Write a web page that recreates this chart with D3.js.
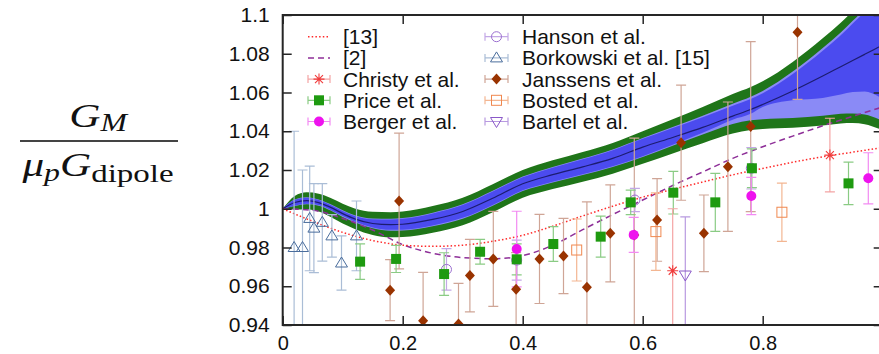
<!DOCTYPE html>
<html><head><meta charset="utf-8">
<script src="https://cdn.jsdelivr.net/npm/d3@7"></script>
<style>body{margin:0;background:#fff}svg{display:block}</style>
</head><body>
<svg id="c" width="879" height="354"></svg>
<script>
// ---- data ----
const xTicks = [0, 0.2, 0.4, 0.6, 0.8];
const xTickLabels = ["0", "0.2", "0.4", "0.6", "0.8"];
const yTicks = [0.94, 0.96, 0.98, 1.0, 1.02, 1.04, 1.06, 1.08, 1.1];
const yTickLabels = ["0.94", "0.96", "0.98", "1", "1.02", "1.04", "1.06", "1.08", "1.1"];

const bandQ   = [0,0.02,0.04,0.06,0.08,0.10,0.12,0.15,0.18,0.20,0.25,0.30,0.35,0.40,0.45,0.50,0.55,0.60,0.65,0.70,0.75,0.78,0.80,0.85,0.90,0.93,0.95,0.97,1.00,1.02];
const center  = [1.0000,1.0032,1.0042,1.0032,1.0007,0.9975,0.9948,0.9924,0.9918,0.9920,0.9945,0.9986,1.0054,1.0129,1.0176,1.0216,1.0260,1.0318,1.0368,1.0420,1.0478,1.0512,1.0538,1.0608,1.0685,1.0733,1.0765,1.0797,1.0845,1.0877];
const greenLo = [1.0000,0.9996,0.9998,0.9986,0.9958,0.9924,0.9896,0.9865,0.9853,0.9854,0.9876,0.9915,0.9982,1.0057,1.0102,1.0140,1.0181,1.0232,1.0285,1.0338,1.0388,1.0407,1.0412,1.0418,1.0430,1.0440,1.0442,1.0436,1.0405,1.0380];
const greenHi = [1.0000,1.0066,1.0085,1.0078,1.0056,1.0026,1.0001,0.9984,0.9982,0.9986,1.0014,1.0057,1.0127,1.0200,1.0250,1.0293,1.0340,1.0400,1.0462,1.0525,1.0592,1.0628,1.0658,1.0758,1.0880,1.0960,1.1020,1.1080,1.1170,1.1230];
const lightLo = [1.0000,1.0014,1.0023,1.0016,0.9991,0.9958,0.9930,0.9899,0.9887,0.9888,0.9910,0.9949,1.0016,1.0091,1.0136,1.0174,1.0215,1.0267,1.0325,1.0383,1.0438,1.0457,1.0462,1.0468,1.0480,1.0490,1.0492,1.0486,1.0455,1.0430];
const lightHi = [1.0000,1.0048,1.0060,1.0048,1.0023,0.9992,0.9967,0.9950,0.9948,0.9952,0.9980,1.0023,1.0093,1.0166,1.0216,1.0259,1.0306,1.0365,1.0422,1.0480,1.0542,1.0578,1.0608,1.0708,1.0830,1.0910,1.0970,1.1030,1.1120,1.1180];
const blueLo  = [1.0000,1.0016,1.0026,1.0019,0.9994,0.9962,0.9934,0.9903,0.9891,0.9892,0.9914,0.9953,1.0020,1.0095,1.0140,1.0178,1.0219,1.0271,1.0330,1.0392,1.0460,1.0490,1.0525,1.0560,1.0572,1.0590,1.0602,1.0605,1.0570,1.0545];
const blueHi  = [1.0000,1.0046,1.0057,1.0045,1.0020,0.9988,0.9963,0.9946,0.9944,0.9948,0.9976,1.0019,1.0089,1.0162,1.0212,1.0255,1.0302,1.0361,1.0417,1.0472,1.0532,1.0566,1.0596,1.0696,1.0816,1.0896,1.0956,1.1016,1.1106,1.1166];

const thQ   = [0,0.05,0.1,0.15,0.2,0.25,0.3,0.35,0.4,0.45,0.5,0.55,0.6,0.65,0.7,0.75,0.8,0.85,0.9,0.95,1.0,1.02];
const ref13 = [1.000,0.9935,0.9878,0.9836,0.9812,0.9806,0.9812,0.9832,0.9863,0.9910,0.9963,1.0013,1.0060,1.0100,1.0138,1.0175,1.0208,1.0240,1.0268,1.0292,1.0315,1.0322];
const ref2  = [1.000,0.9992,0.9950,0.9890,0.9815,0.9770,0.9748,0.9742,0.9758,0.9812,0.9892,0.9970,1.0045,1.0120,1.0190,1.0260,1.0320,1.0375,1.0428,1.0477,1.0525,1.0543];

const christyQ = [0.650, 0.912];
const christyV = [0.968, 1.0277];
const christyE = [0.032, 0.019];

const priceQ = [0.129,0.189,0.269,0.329,0.390,0.451,0.530,0.580,0.651,0.721,0.782,0.943];
const priceV = [0.9727,0.9741,0.9663,0.9778,0.9739,0.9818,0.9856,1.0033,1.0083,1.0033,1.0209,1.0131];
const priceE = [0.0092,0.0070,0.0110,0.0064,0.0080,0.0090,0.0106,0.0063,0.0110,0.0150,0.0100,0.0110];

const bergerQ = [0.390, 0.585, 0.781, 0.976];
const bergerV = [0.9792, 0.9865, 1.0066, 1.0157];
const bergerE = [0.0195, 0.0090, 0.0096, 0.0132];

const hansonQ = [0.273, 0.390, 0.587, 0.781];
const hansonV = [0.9687, 0.9735, 1.0045, 1.0209];
const hansonE = [0.0107, 0.0103, 0.0060, 0.0107];

const borkQ = [0.019,0.033,0.045,0.052,0.066,0.082,0.098,0.123];
const borkV = [0.980,0.980,0.995,0.990,0.993,0.986,0.972,0.986];
const borkE = [0.060,0.040,0.027,0.023,0.020,0.011,0.014,0.018];

const janssQ = [0.179,0.194,0.234,0.293,0.312,0.351,0.389,0.428,0.468,0.507,0.546,0.586,0.624,0.664,0.702,0.742,0.780,0.858];
const janssV = [0.958,1.004,0.9422,0.9405,0.9655,0.9741,0.9584,0.9741,0.9756,0.9595,0.9873,0.9865,0.9942,1.0341,0.9873,1.0217,1.0424,1.0911];
const janssE = [0.0157,0.035,0.025,0.021,0.0187,0.0245,0.019,0.023,0.0194,0.044,0.025,0.050,0.0213,0.0297,0.0198,0.0334,0.0439,0.0346];

const bostedQ = [0.490, 0.622, 0.832];
const bostedV = [0.9787, 0.9882, 0.9982];
const bostedE = [0.016, 0.020, 0.015];

const bartelQ = [0.671];
const bartelV = [0.9658];
const bartelE = [0.030];

const legendLeft  = ["[13]", "[2]", "Christy et al.", "Price et al.", "Berger et al."];
const legendRight = ["Hanson et al.", "Borkowski et al. [15]", "Janssens et al.", "Bosted et al.", "Bartel et al."];

// ---- drawing ----
const svg = d3.select('#c');
const x = d3.scaleLinear().domain([0, 1]).range([282.7, 882.7]);
const y = d3.scaleLinear().domain([0.94, 1.1]).range([325, 15]);
const FONT = "'Liberation Sans', Arial, Helvetica, sans-serif";

svg.append('clipPath').attr('id', 'clip').append('rect')
  .attr('x', x(0)).attr('y', y(1.1)).attr('width', x(1) - x(0)).attr('height', y(0.94) - y(1.1));

const plot = svg.append('g').attr('clip-path', 'url(#clip)');

function band(lo, hi, color) {
  const data = bandQ.map((q, i) => ({q, lo: lo[i], hi: hi[i]}));
  plot.append('path').datum(data)
    .attr('d', d3.area().curve(d3.curveMonotoneX).x(d => x(d.q)).y0(d => y(d.lo)).y1(d => y(d.hi)))
    .attr('fill', color).attr('stroke', 'none');
}
band(greenLo, greenHi, '#1f7519');
band(lightLo, lightHi, '#8a8af6');
band(blueLo, blueHi, '#4b4bef');
plot.append('path').datum(bandQ.map((q, i) => ({q, v: center[i]})))
  .attr('d', d3.line().curve(d3.curveMonotoneX).x(d => x(d.q)).y(d => y(d.v)))
  .attr('fill', 'none').attr('stroke', '#1c1c70').attr('stroke-width', 1.2);

// theory curves
plot.append('path').datum(thQ.map((q, i) => ({q, v: ref2[i]})))
  .attr('d', d3.line().curve(d3.curveMonotoneX).x(d => x(d.q)).y(d => y(d.v)))
  .attr('fill', 'none').attr('stroke', '#8e2f98').attr('stroke-width', 1.5).attr('stroke-dasharray', '6,4');
plot.append('path').datum(thQ.map((q, i) => ({q, v: ref13[i]})))
  .attr('d', d3.line().curve(d3.curveMonotoneX).x(d => x(d.q)).y(d => y(d.v)))
  .attr('fill', 'none').attr('stroke', '#ff2a2a').attr('stroke-width', 1.5).attr('stroke-dasharray', '1.5,2.2');

// marker drawing
function marker(g, type, cx, cy, color) {
  if (type === 'square') {
    g.append('rect').attr('x', cx - 5).attr('y', cy - 5).attr('width', 10).attr('height', 10).attr('fill', color);
  } else if (type === 'osquare') {
    g.append('rect').attr('x', cx - 5).attr('y', cy - 5).attr('width', 10).attr('height', 10)
      .attr('fill', 'none').attr('stroke', color).attr('stroke-width', 1);
  } else if (type === 'circle') {
    g.append('circle').attr('cx', cx).attr('cy', cy).attr('r', 5).attr('fill', color);
  } else if (type === 'ocircle') {
    g.append('circle').attr('cx', cx).attr('cy', cy).attr('r', 5).attr('fill', 'none').attr('stroke', color).attr('stroke-width', 1);
  } else if (type === 'diamond') {
    g.append('path').attr('d', `M${cx},${cy-5.5}L${cx+5},${cy}L${cx},${cy+5.5}L${cx-5},${cy}Z`).attr('fill', color);
  } else if (type === 'tri') {
    g.append('path').attr('d', `M${cx},${cy-6}L${cx+6},${cy+4}L${cx-6},${cy+4}Z`)
      .attr('fill', 'none').attr('stroke', color).attr('stroke-width', 1);
  } else if (type === 'dtri') {
    g.append('path').attr('d', `M${cx},${cy+6}L${cx+6},${cy-4}L${cx-6},${cy-4}Z`)
      .attr('fill', 'none').attr('stroke', color).attr('stroke-width', 1);
  } else if (type === 'star') {
    const r = 5.5, s = 4;
    g.append('path').attr('d', `M${cx-r},${cy}L${cx+r},${cy}M${cx},${cy-r}L${cx},${cy+r}M${cx-s},${cy-s}L${cx+s},${cy+s}M${cx-s},${cy+s}L${cx+s},${cy-s}`)
      .attr('stroke', color).attr('stroke-width', 1.1).attr('fill', 'none');
  }
}

const series = [
  {name: 'bork',   q: borkQ,    v: borkV,    e: borkE,    type: 'tri',     color: '#4a6d9c', bar: '#aabdd6'},
  {name: 'janss',  q: janssQ,   v: janssV,   e: janssE,   type: 'diamond', color: '#993300', bar: '#cfa596'},
  {name: 'bosted', q: bostedQ,  v: bostedV,  e: bostedE,  type: 'osquare', color: '#f0884f', bar: '#f3b692'},
  {name: 'hanson', q: hansonQ,  v: hansonV,  e: hansonE,  type: 'ocircle', color: '#9b6fd0', bar: '#c3a8e6'},
  {name: 'price',  q: priceQ,   v: priceV,   e: priceE,   type: 'square',  color: '#1e9a10', bar: '#8acb84'},
  {name: 'berger', q: bergerQ,  v: bergerV,  e: bergerE,  type: 'circle',  color: '#ee12ee', bar: '#f28af2'},
  {name: 'christy',q: christyQ, v: christyV, e: christyE, type: 'star',    color: '#f03c3c', bar: '#f4a4a4'},
  {name: 'bartel', q: bartelQ,  v: bartelV,  e: bartelE,  type: 'dtri',    color: '#8a58c8', bar: '#b89ae0'}
];

const CAP = 5;
series.forEach(s => {
  const g = plot.append('g');
  s.q.forEach((q, i) => {
    const cx = x(q), y1 = y(s.v[i] + s.e[i]), y2 = y(s.v[i] - s.e[i]);
    g.append('path').attr('d', `M${cx},${y1}L${cx},${y2}M${cx-CAP},${y1}L${cx+CAP},${y1}M${cx-CAP},${y2}L${cx+CAP},${y2}`)
      .attr('stroke', s.bar).attr('stroke-width', 1.2).attr('fill', 'none');
  });
});
series.forEach(s => {
  const g = plot.append('g');
  s.q.forEach((q, i) => marker(g, s.type, x(q), y(s.v[i]), s.color));
});

// frame & axes
svg.append('rect').attr('x', x(0)).attr('y', y(1.1)).attr('width', x(1) - x(0)).attr('height', y(0.94) - y(1.1))
  .attr('fill', 'none').attr('stroke', '#262626').attr('stroke-width', 2);

const axL = svg.append('g').attr('transform', `translate(${x(0)},0)`)
  .call(d3.axisLeft(y).tickValues(yTicks).tickSizeInner(-9).tickSizeOuter(0).tickPadding(13)
    .tickFormat((d, i) => yTickLabels[i]));
const axB = svg.append('g').attr('transform', `translate(0,${y(0.94)})`)
  .call(d3.axisBottom(x).tickValues(xTicks).tickSizeInner(-9).tickSizeOuter(0).tickPadding(10.3)
    .tickFormat((d, i) => xTickLabels[i]));
const axT = svg.append('g').attr('transform', `translate(0,${y(1.1)})`)
  .call(d3.axisTop(x).tickValues(xTicks).tickSizeInner(-9).tickSizeOuter(0).tickFormat(''));
const axR = svg.append('g').attr('transform', `translate(${x(1)},0)`)
  .call(d3.axisRight(y).tickValues(yTicks).tickSizeInner(-9).tickSizeOuter(0).tickFormat(''));
[axL, axB, axT, axR].forEach(a => {
  a.select('.domain').remove();
  a.selectAll('.tick line').attr('stroke', '#262626').attr('stroke-width', 1.5);
  a.selectAll('text').attr('font-family', FONT).attr('font-size', 21).attr('fill', '#111');
});
axB.selectAll('text').attr('font-size', 20);

// legend
const legRow = i => 36.7 + i * 21.2;
const lg = svg.append('g');
function legText(xp, i, t) {
  lg.append('text').attr('x', xp).attr('y', legRow(i) + 7.5).text(t)
    .attr('font-family', FONT).attr('font-size', 21).attr('fill', '#111');
}
function legErr(x1, x2, yy, col) {
  lg.append('path').attr('d', `M${x1},${yy}L${x2},${yy}M${x1},${yy-4}L${x1},${yy+4}M${x2},${yy-4}L${x2},${yy+4}`)
    .attr('stroke', col).attr('stroke-width', 1.2).attr('fill', 'none');
}
lg.append('line').attr('x1', 308).attr('x2', 330).attr('y1', legRow(0)).attr('y2', legRow(0))
  .attr('stroke', '#ff2a2a').attr('stroke-width', 1.5).attr('stroke-dasharray', '1.5,2.2');
lg.append('line').attr('x1', 308).attr('x2', 330).attr('y1', legRow(1)).attr('y2', legRow(1))
  .attr('stroke', '#8e2f98').attr('stroke-width', 1.5).attr('stroke-dasharray', '6,4');
const leftSeries = [null, null, series[6], series[4], series[5]];
const rightSeries = [series[3], series[0], series[1], series[2], series[7]];
legendLeft.forEach((t, i) => {
  legText(343, i, t);
  const s = leftSeries[i];
  if (s) { legErr(308, 330, legRow(i), s.bar); marker(lg, s.type, 319, legRow(i), s.color); }
});
legendRight.forEach((t, i) => {
  legText(522, i, t);
  const s = rightSeries[i];
  legErr(485, 508, legRow(i), s.bar); marker(lg, s.type, 496.5, legRow(i), s.color);
});

// y label (fraction)
const SERIF = "'Liberation Serif', 'Times New Roman', serif";
svg.append('line').attr('x1', 20).attr('x2', 178).attr('y1', 141).attr('y2', 141).attr('stroke', '#444').attr('stroke-width', 1.8);
const yl = svg.append('g').attr('font-family', SERIF).attr('fill', '#111')
  .attr('transform', 'translate(98,0) scale(1.27,1)');
const num = yl.append('text').attr('x', 0).attr('y', 127).attr('text-anchor', 'middle');
num.append('tspan').attr('font-style', 'italic').attr('font-size', 34).text('G');
num.append('tspan').attr('font-style', 'italic').attr('font-size', 25).attr('dy', 4).text('M');
const den = yl.append('text').attr('x', 0).attr('y', 176).attr('text-anchor', 'middle');
den.append('tspan').attr('font-style', 'italic').attr('font-size', 34).text('μ');
den.append('tspan').attr('font-style', 'italic').attr('font-size', 25).attr('dy', 5).text('p');
den.append('tspan').attr('font-style', 'italic').attr('font-size', 34).attr('dy', -5).text('G');
den.append('tspan').attr('font-size', 26).attr('dy', 6).text('dipole');
</script>
</body></html>
